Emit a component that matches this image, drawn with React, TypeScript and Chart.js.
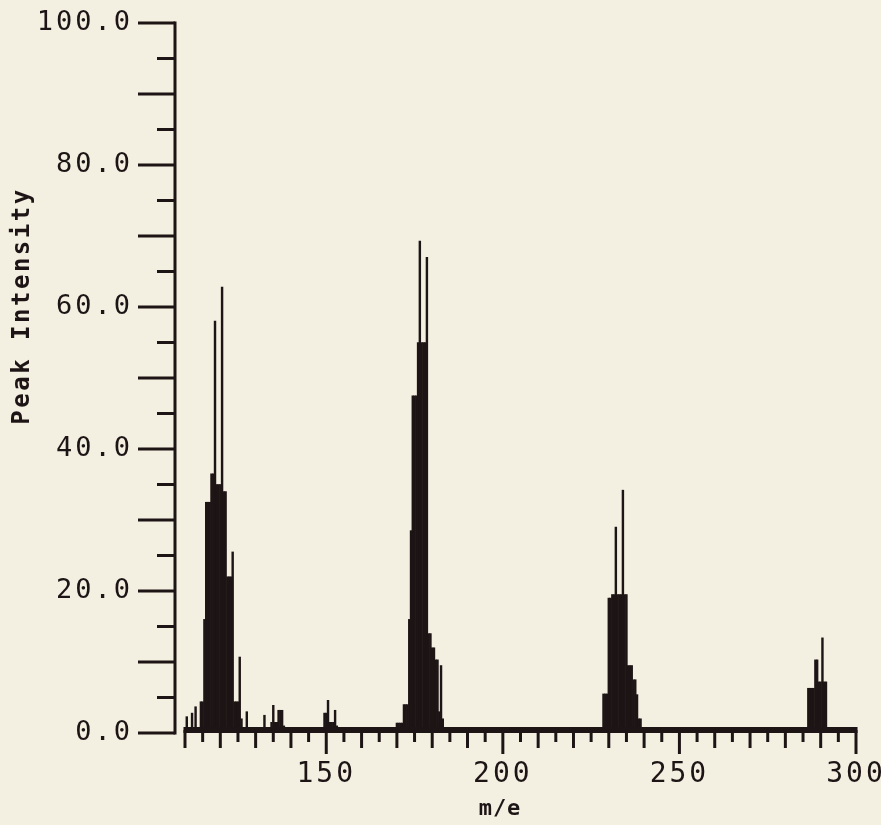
import React, { useEffect, useRef } from "react";
import { Chart, registerables } from "chart.js";

Chart.register(...registerables);

// m/e positions of the plotted sticks and their peak intensities (%)
const massToCharge = [
  110.5, 112.0, 113.0,
  114.5, 115.0, 115.5, 116.0, 116.5, 117.0, 117.5, 118.0, 118.5, 119.0, 119.5, 120.0,
  120.5, 121.0, 121.5, 122.0, 122.5, 123.0, 123.5, 124.0, 124.5, 125.0, 125.5, 126.0, 127.5,
  132.5, 134.5, 135.0, 135.5, 136.0, 136.5, 137.0, 137.5, 138.0,
  149.5, 150.0, 150.5, 151.0, 151.5, 152.0, 152.5, 153.0,
  170.0, 170.5, 171.0, 171.5, 172.0, 172.5, 173.0, 173.5, 174.0, 174.5, 175.0, 175.5,
  176.0, 176.5, 177.0, 177.5, 178.0, 178.5, 179.0, 179.5, 180.0, 180.5, 181.0, 181.5,
  182.0, 182.5, 183.0,
  228.5, 229.0, 229.5, 230.0, 230.5, 231.0, 231.5, 232.0, 232.5, 233.0, 233.5, 234.0,
  234.5, 235.0, 235.5, 236.0, 236.5, 237.0, 237.5, 238.0, 238.5, 239.0,
  286.5, 287.0, 287.5, 288.0, 288.5, 289.0, 289.5, 290.0, 290.5, 291.0, 291.5,
];

const peakIntensity = [
  2.3, 2.8, 3.7,
  4.4, 4.4, 16, 32.5, 32.5, 32.5, 36.5, 36.5, 58, 35, 35, 35,
  62.8, 34, 34, 22, 22, 22, 25.5, 4.4, 4.4, 4.4, 10.7, 2.0, 3.0,
  2.5, 1.5, 3.9, 1.5, 1.5, 3.2, 3.2, 3.2, 1.0,
  2.8, 2.8, 4.6, 1.5, 1.5, 1.5, 3.2, 1.0,
  1.4, 1.4, 1.4, 1.4, 4.0, 4.0, 4.0, 16, 28.5, 47.5, 47.5, 47.5,
  55, 69.3, 55, 55, 55, 67, 14, 14, 12, 12, 10.3, 10.3,
  3.0, 9.5, 2.0,
  5.5, 5.5, 5.5, 19, 19, 19.5, 19.5, 29, 19.5, 19.5, 19.5, 34.2,
  19.5, 19.5, 9.5, 9.5, 9.5, 7.5, 7.5, 5.4, 2.0, 2.0,
  6.3, 6.3, 6.3, 6.3, 10.3, 10.3, 7.2, 7.2, 13.4, 7.2, 7.2,
];

const xLabelTicks = [150, 200, 250, 300];
const xTickMarks = [
  110, 115, 120, 125, 130, 135, 140, 145, 150, 155, 160, 165, 170, 175, 180, 185, 190, 195,
  200, 205, 210, 215, 220, 225, 230, 235, 240, 245, 250, 255, 260, 265, 270, 275, 280, 285,
  290, 295, 300,
];
const yLabelTicks = [0, 20, 40, 60, 80, 100];
const yTickMarks = [0, 5, 10, 15, 20, 25, 30, 35, 40, 45, 50, 55, 60, 65, 70, 75, 80, 85, 90, 95, 100];

const xTitle = "m/e";
const yTitle = "Peak Intensity";

const PAPER = "#f3efe1";
const INK = "#1d1515";
const FONT = "'DejaVu Sans Mono', 'Liberation Mono', monospace";

const plotterAxes = {
  id: "plotterAxes",
  beforeDraw(chart: any) {
    const { ctx, width, height } = chart;
    ctx.save();
    ctx.fillStyle = PAPER;
    ctx.fillRect(0, 0, width, height);
    ctx.restore();
    ctx.letterSpacing = "3px";
  },
  afterDraw(chart: any) {
    const { ctx, chartArea } = chart;
    const xs = chart.scales.x;
    const ys = chart.scales.y;
    ctx.save();
    ctx.strokeStyle = INK;
    ctx.fillStyle = INK;
    ctx.lineCap = "butt";
    ctx.lineWidth = 3;
    const line = (x1: number, y1: number, x2: number, y2: number) => {
      ctx.beginPath();
      ctx.moveTo(x1, y1);
      ctx.lineTo(x2, y2);
      ctx.stroke();
    };
    // vertical axis
    const ax = chartArea.left;
    line(ax, ys.getPixelForValue(100) - 1.5, ax, ys.getPixelForValue(0) + 1.5);
    yTickMarks.forEach((v) => {
      const py = ys.getPixelForValue(v);
      const len = v % 10 === 0 ? 37 : 18;
      line(ax - len, py, ax, py);
    });
    // horizontal axis (thick baseline)
    const by = ys.getPixelForValue(0);
    const x0 = xs.getPixelForValue(110);
    const x1 = xs.getPixelForValue(300);
    ctx.fillRect(x0 - 1.5, by - 6, x1 - x0 + 3, 6);
    xTickMarks.forEach((v) => {
      const px = xs.getPixelForValue(v);
      const len = v % 50 === 0 ? 24 : v % 10 === 0 ? 18 : 12;
      line(px, by - 3, px, by - 3 + len);
    });
    // titles
    ctx.textAlign = "center";
    ctx.textBaseline = "alphabetic";
    ctx.letterSpacing = "1px";
    ctx.font = `bold 22px ${FONT}`;
    ctx.fillText(xTitle, 500, 815);
    ctx.save();
    ctx.translate(29, 306);
    ctx.rotate(-Math.PI / 2);
    ctx.letterSpacing = "2.5px";
    ctx.font = `bold 24px ${FONT}`;
    ctx.fillText(yTitle, 0, 0);
    ctx.restore();
    ctx.restore();
  },
};

export default function App() {
  const canvasRef = useRef<HTMLCanvasElement | null>(null);

  useEffect(() => {
    document.body.style.margin = "0";
    document.body.style.background = PAPER;
    const canvas = canvasRef.current;
    if (!canvas) return;
    const chart = new Chart(canvas, {
      type: "bar",
      data: {
        datasets: [
          {
            data: massToCharge.map((m, i) => ({ x: m, y: peakIntensity[i] })),
            backgroundColor: INK,
            borderWidth: 0,
            barPercentage: 1,
            categoryPercentage: 1,
          },
        ],
      },
      options: {
        animation: false,
        responsive: false,
        events: [],
        layout: { autoPadding: false, padding: { top: 23, right: 25, left: 0, bottom: 0 } },
        plugins: { legend: { display: false }, tooltip: { enabled: false }, title: { display: false } },
        scales: {
          x: {
            type: "linear",
            min: 107.17,
            max: 300,
            offset: false,
            grid: { display: false, drawTicks: false },
            border: { display: false },
            afterBuildTicks: (scale: any) => {
              scale.ticks = xLabelTicks.map((v) => ({ value: v }));
            },
            afterFit: (scale: any) => {
              scale.height = 92;
              scale.paddingLeft = 0;
              scale.paddingRight = 0;
            },
            ticks: {
              autoSkip: false,
              maxRotation: 0,
              padding: 25,
              color: INK,
              font: { family: FONT, size: 28 },
              callback: (v: any) => String(v),
            },
          },
          y: {
            type: "linear",
            min: 0,
            max: 100,
            grid: { display: false, drawTicks: false },
            border: { display: false },
            afterBuildTicks: (scale: any) => {
              scale.ticks = yLabelTicks.map((v) => ({ value: v }));
            },
            afterFit: (scale: any) => {
              scale.width = 175;
              scale.paddingTop = 0;
              scale.paddingBottom = 0;
            },
            ticks: {
              autoSkip: false,
              padding: 42,
              color: INK,
              font: { family: FONT, size: 27 },
              callback: (v: any) => Number(v).toFixed(1),
            },
          },
        },
      },
      plugins: [plotterAxes],
    });
    return () => chart.destroy();
  }, []);

  return (
    <div style={{ width: 881, height: 825, background: PAPER }}>
      <canvas ref={canvasRef} width={881} height={825} style={{ display: "block" }} />
    </div>
  );
}
